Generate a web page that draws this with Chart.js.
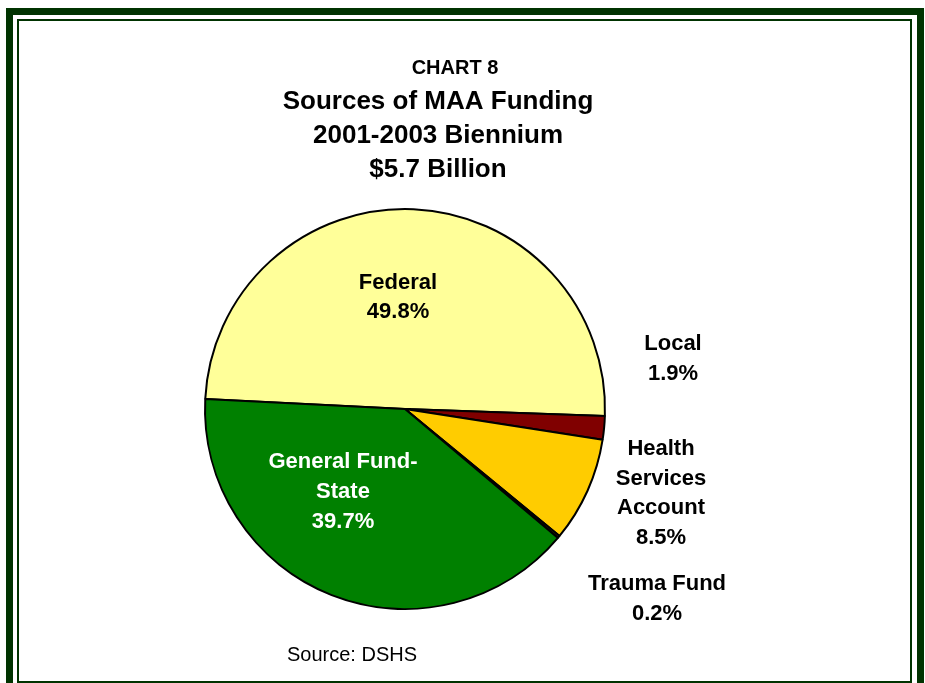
<!DOCTYPE html>
<html>
<head>
<meta charset="utf-8">
<script src="https://cdn.jsdelivr.net/npm/chart.js@4"></script>
<style>
  html, body { margin:0; padding:0; width:925px; height:683px; overflow:hidden; background:#ffffff; }
  #outer { position:absolute; left:6px; top:8px; width:918px; height:740px; box-sizing:border-box; border:7px solid #003300; }
  #inner { position:absolute; left:17px; top:19px; width:895px; height:664px; box-sizing:border-box; border:2px solid #003300; }
  #c { position:absolute; left:0; top:0; }
</style>
</head>
<body>
<div id="outer"></div>
<div id="inner"></div>
<canvas id="c" width="925" height="683"></canvas>
<script>
// ---- data ----
const categories = ['Federal', 'Local', 'Health Services Account', 'Trauma Fund', 'General Fund-State'];
const shares = [49.8, 1.9, 8.5, 0.2, 39.7];
const labelLines = [['Federal'], ['Local'], ['Health', 'Services', 'Account'], ['Trauma Fund'], ['General Fund-', 'State']];
const titleLines = ['CHART 8', 'Sources of MAA Funding', '2001-2003 Biennium', '$5.7 Billion'];
const sourceNote = 'Source: DSHS';

// ---- styles / positions ----
const sliceColors = ['#FFFF99', '#800000', '#FFCC00', '#4A3C00', '#008000'];
const labelColors = ['#000000', '#000000', '#000000', '#000000', '#FFFFFF'];
const labelCenters = [[398, 297.5], [673, 359], [661, 493.5], [657, 599], [343, 492]];
const labelLineHeight = 29.7;
const titleCenters = [[455, 68], [438, 102], [438, 136], [438, 170]];
const titleFonts = ['bold 20px "Liberation Sans", Arial, sans-serif',
                    'bold 26px "Liberation Sans", Arial, sans-serif',
                    'bold 26px "Liberation Sans", Arial, sans-serif',
                    'bold 26px "Liberation Sans", Arial, sans-serif'];

const textPlugin = {
  id: 'textPlugin',
  afterDraw(chart) {
    const ctx = chart.ctx;
    ctx.save();
    ctx.textAlign = 'center';
    ctx.textBaseline = 'middle';
    ctx.fillStyle = '#000000';
    titleLines.forEach((t, i) => {
      ctx.font = titleFonts[i];
      ctx.fillText(t, titleCenters[i][0], titleCenters[i][1]);
    });
    ctx.font = 'bold 22px "Liberation Sans", Arial, sans-serif';
    categories.forEach((c, i) => {
      const lines = labelLines[i].concat([shares[i].toFixed(1) + '%']);
      const [cx, cy] = labelCenters[i];
      const y0 = cy - (lines.length - 1) * labelLineHeight / 2;
      ctx.fillStyle = labelColors[i];
      lines.forEach((l, j) => ctx.fillText(l, cx, y0 + j * labelLineHeight));
    });
    ctx.fillStyle = '#000000';
    ctx.font = '20px "Liberation Sans", Arial, sans-serif';
    ctx.fillText(sourceNote, 352, 655);
    ctx.restore();
  }
};

new Chart(document.getElementById('c'), {
  type: 'pie',
  data: {
    labels: categories,
    datasets: [{
      data: shares,
      backgroundColor: sliceColors,
      borderColor: '#000000',
      borderWidth: 2,
      hoverOffset: 0
    }]
  },
  options: {
    responsive: false,
    animation: false,
    rotation: -87.1,
    radius: 200,
    layout: { padding: { left: 0, right: 115, top: 135, bottom: 0 } },
    plugins: {
      legend: { display: false },
      title: { display: false },
      tooltip: { enabled: false }
    }
  },
  plugins: [textPlugin]
});
</script>
</body>
</html>
